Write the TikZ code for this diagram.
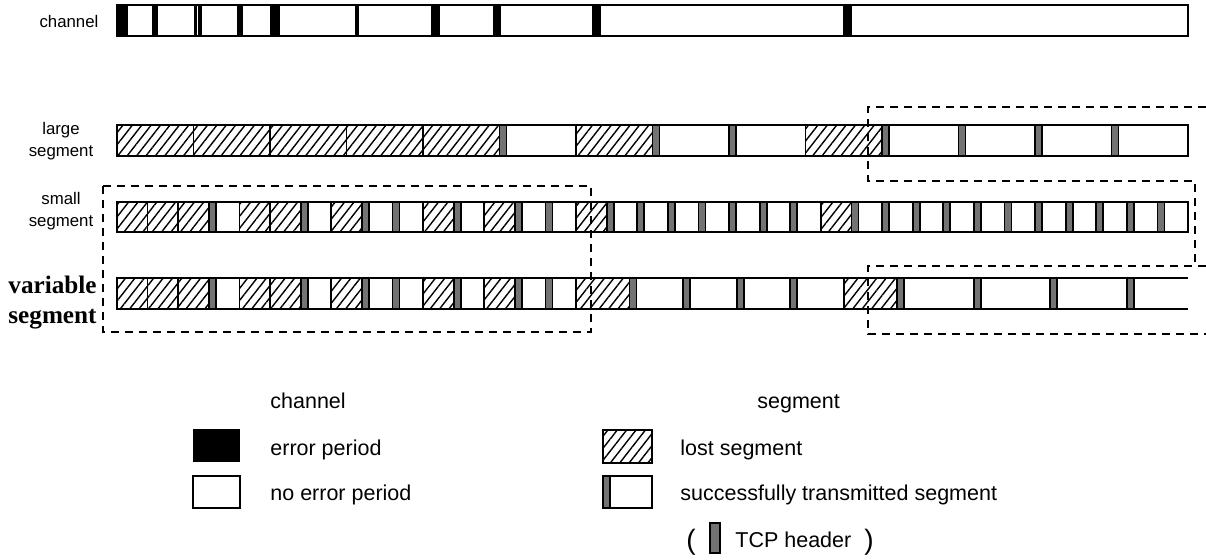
\documentclass[tikz,border=0pt]{standalone}
\usepackage{fontspec}
\setmainfont{Liberation Sans}
\newfontfamily\timesfamily{Liberation Serif}
\usetikzlibrary{patterns.meta}

\tikzset{
  bar/.style={line width=1.3pt},
  sep/.style={line width=0.75pt},
  lost/.style={sep, pattern={Lines[angle=52,distance=3.7pt,line width=0.7pt]}},
  hdr/.style={line width=0.9pt, fill=black!55},
  errp/.style={fill=black},
  zone/.style={dash pattern=on 4pt off 3pt, line width=0.9pt},
  lab/.style={font=\fontsize{8.4pt}{11pt}\selectfont, align=center, inner sep=0pt},
  leg/.style={font=\fontsize{10.75pt}{13pt}\selectfont, anchor=base west, inner sep=0pt},
}

% one segment of a row whose top and bottom are \rT and \rB
\newcommand\lostbox[2]{\draw[lost] (#1,\rT) rectangle (#2,\rB);}
\newcommand\okbox[2]{\draw[sep] (#1,\rT) rectangle (#2,\rB);
  \draw[hdr] (#1,\rT) rectangle ({#1+7},\rB);}
% a run of equal segments: start x, width, list of types (L lost, S sent)
\newcommand\segrun[3]{%
  \foreach \t [count=\i from 0] in {#3} {%
    \pgfmathsetmacro\xa{#1+#2*\i}%
    \pgfmathsetmacro\xb{\xa+#2}%
    \if\t L\lostbox{\xa}{\xb}\else\okbox{\xa}{\xb}\fi
  }}

\begin{document}
\begin{tikzpicture}[x=0.5pt,y=-0.5pt]
\useasboundingbox (0,0) rectangle (1206,559);

% ---------- channel ----------
\node[lab] (lchan) at (69,21) {channel};
\draw[bar, fill=white] (117,5) rectangle (1188,36);
\foreach \a/\b in {117/128,152/158,194/196.6,197.6/201.5,237/243,270/280,355/358.5,431/440,493/501,592/601,843/852}
  \fill[errp] (\a,5) rectangle (\b,36);
\draw[bar] (117,5) rectangle (1188,36);

% ---------- large segment ----------
\node[lab] (llarge) at (61,141) {large\\segment};
\def\rT{125}\def\rB{156}
\segrun{117}{76.5}{L,L,L,L,L,S,L,S,S,L,S,S,S,S}
\draw[bar] (117,\rT) rectangle (1188,\rB);

% ---------- small segment ----------
\node[lab] (lsmall) at (61,211) {small\\segment};
\def\rT{202}\def\rB{232}
\segrun{117}{30.6}{L,L,L,S,L,L,S,L,S,S,L,S,L,S,S,L,S,S,S,S,S,S,S,L,S,S,S,S,S,S,S,S,S,S,S}
\draw[bar] (117,\rT) rectangle (1188,\rB);

% ---------- variable segment ----------
\node[font=\timesfamily\bfseries\fontsize{12.6pt}{15pt}\selectfont, align=center, inner sep=0pt]
  (lvar) at (52.5,303) {variable\\segment};
\def\rT{278}\def\rB{309}
\segrun{117}{30.6}{L,L,L,S,L,L,S,L,S,S,L,S,L,S,S}
\segrun{576}{53.55}{L,S,S,S,S,L}
\segrun{897.3}{76.5}{S,S,S}
\draw[hdr] (1126.8,\rT) rectangle (1133.8,\rB);
\draw[bar] (1188,\rT) -- (117,\rT) -- (117,\rB) -- (1188,\rB);

% ---------- highlighted zones ----------
\draw[zone] (103,186) rectangle (591,332);
\draw[zone] (1206,107) -- (868,107) -- (868,181) -- (1195,181) -- (1195,266);
\draw[zone] (1206,266) -- (868,266) -- (868,334) -- (1206,334);

% ---------- legend: channel ----------
\node[leg] (tchan) at (270,408) {channel};
\fill[errp] (193,429) rectangle (240,462);
\node[leg] (terr) at (270,455) {error period};
\draw[sep] (193,476) rectangle (240,508);
\node[leg] (tnoerr) at (270,500) {no error period};

% ---------- legend: segment ----------
\node[leg] (tseg) at (757,408) {segment};
\draw[lost] (603,430) rectangle (652,463);
\node[leg] (tlost) at (680,455) {lost segment};
\draw[sep] (603,476) rectangle (652,508);
\draw[hdr] (603,476) rectangle (610,508);
\node[leg] (tok) at (680,500) {successfully transmitted segment};
\node[leg, font=\fontsize{14pt}{16pt}\selectfont] (popen) at (686,549) {(};
\draw[hdr] (710,523) rectangle (720,553);
\node[leg] (ttcp) at (735,547) {TCP header};
\node[leg, font=\fontsize{14pt}{16pt}\selectfont] (pclose) at (864,549) {)};
\end{tikzpicture}
\end{document}
